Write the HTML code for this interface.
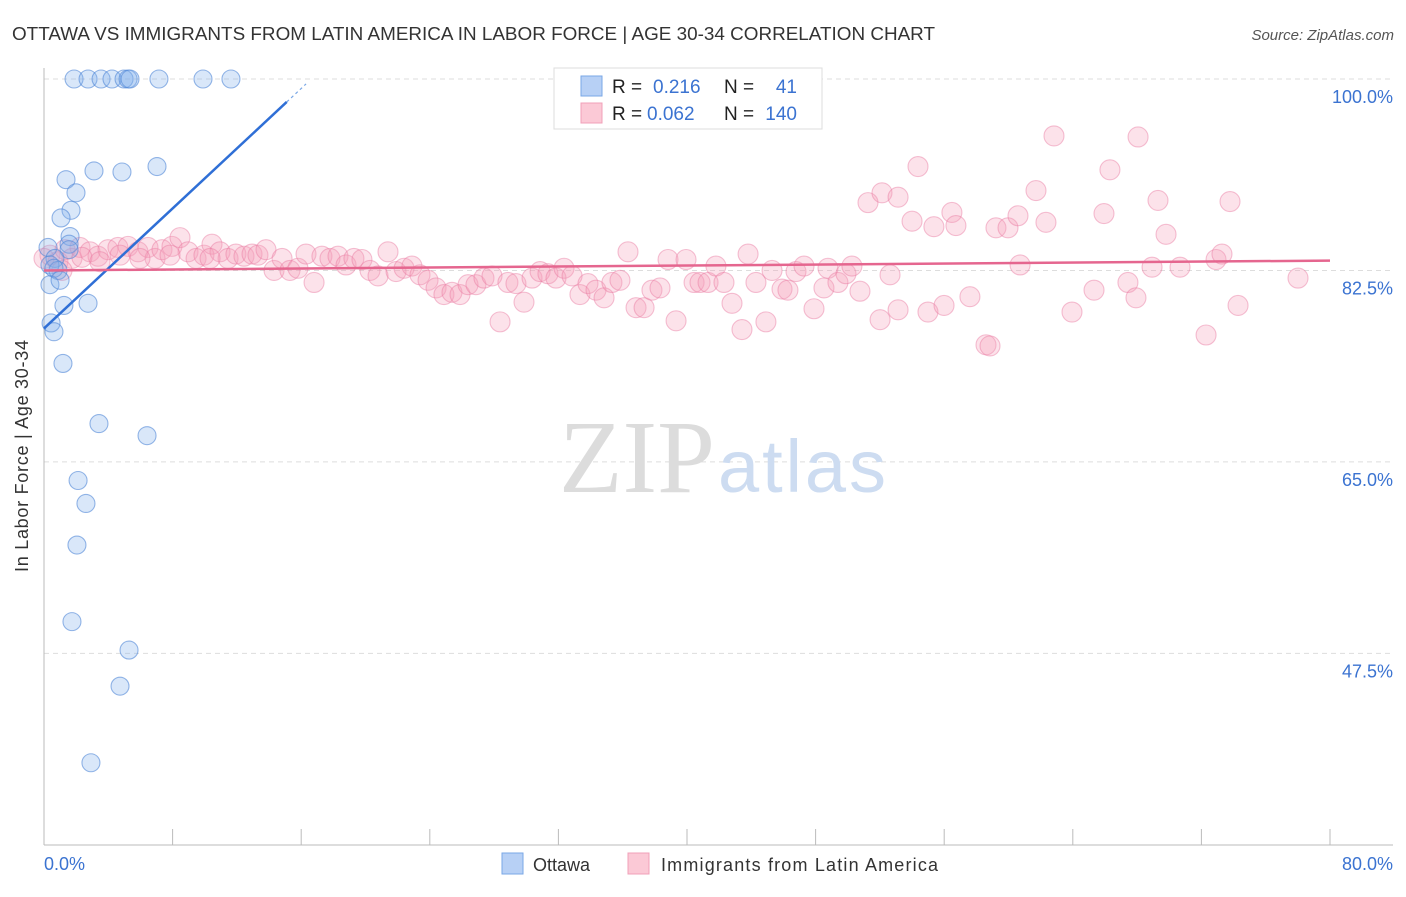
<!DOCTYPE html>
<html><head><meta charset="utf-8"><style>
body{margin:0;background:#fff;font-family:"Liberation Sans",sans-serif}
</style></head><body>
<svg width="1406" height="892" viewBox="0 0 1406 892" xmlns="http://www.w3.org/2000/svg">
<text x="12" y="40" font-size="18" fill="#333" textLength="923" lengthAdjust="spacingAndGlyphs">OTTAWA VS IMMIGRANTS FROM LATIN AMERICA IN LABOR FORCE | AGE 30-34 CORRELATION CHART</text>
<text x="1394" y="40" font-size="15" fill="#555" font-style="italic" text-anchor="end">Source: ZipAtlas.com</text>
<g id="grid"></g>
<text x="715" y="492" font-family="Liberation Serif,serif" font-size="104" fill="#dcdcdc" text-anchor="end">ZIP</text>
<text x="718" y="492" font-size="74" fill="#cddcf1" textLength="168">atlas</text>
<line x1="44" y1="68" x2="44" y2="845" stroke="#bbb"/>
<line x1="44" y1="845" x2="1393" y2="845" stroke="#bbb"/>
<g id="pts"></g>
<g id="lines"></g>
<text x="28" y="456" font-size="18" fill="#333" text-anchor="middle" transform="rotate(-90 28 456)" textLength="232">In Labor Force | Age 30-34</text>
<text x="44" y="870" font-size="18" fill="#3b73d1">0.0%</text>
<text x="1393" y="870" font-size="18" fill="#3b73d1" text-anchor="end">80.0%</text>
<g>
<rect x="554" y="68" width="268" height="61" fill="#fff" stroke="#ddd"/>
<rect x="581" y="76" width="21" height="20" fill="#b7d0f5" stroke="#7aa7e6"/>
<rect x="581" y="103" width="21" height="20" fill="#fbc9d6" stroke="#f0a0b8"/>
<text x="612" y="93" font-size="19" fill="#222">R = </text><text x="653" y="93" font-size="19" fill="#3b73d1">0.216</text>
<text x="724" y="93" font-size="19" fill="#222">N = </text><text x="797" y="93" font-size="19" fill="#3b73d1" text-anchor="end">41</text>
<text x="612" y="120" font-size="19" fill="#222">R = </text><text x="647" y="120" font-size="19" fill="#3b73d1">0.062</text>
<text x="724" y="120" font-size="19" fill="#222">N = </text><text x="797" y="120" font-size="19" fill="#3b73d1" text-anchor="end">140</text>
</g>
<rect x="502" y="853" width="21" height="21" fill="#b7d0f5" stroke="#7aa7e6"/>
<text x="533" y="871" font-size="18" fill="#333">Ottawa</text>
<rect x="628" y="853" width="21" height="21" fill="#fbc9d6" stroke="#f0a0b8"/>
<text x="661" y="871" font-size="18" fill="#333" textLength="277">Immigrants from Latin America</text>
</svg>
<script>
const yTicks=[100,82.5,65,47.5];
const yTickLabels=["100.0%","82.5%","65.0%","47.5%"];
const xTicks=[0,8,16,24,32,40,48,56,64,72,80];
const ottawaX=[1.87,2.74,3.55,4.23,4.98,5.23,5.35,7.15,9.89,11.63,7.03,4.85,3.11,1.37,1.99,1.68,1.06,1.62,1.56,1.56,0.25,0.68,0.37,0.87,0.62,0.37,1.0,1.24,2.74,0.44,0.62,1.18,3.42,6.41,2.12,2.61,2.05,1.74,5.29,4.73,2.92];
const ottawaY=[100,100,100,100,100,100,100,100,100,100,92.0,91.5,91.6,90.8,89.6,88.0,87.3,85.6,84.9,84.4,84.6,83.6,83.0,82.5,82.7,81.2,81.6,79.3,79.5,77.7,76.9,74.0,68.5,67.4,63.3,61.2,57.4,50.4,47.8,44.5,37.5];
const latinX=[0.37,0.87,1.31,1.74,2.24,2.86,3.36,3.98,4.6,5.23,5.85,6.47,6.91,7.34,7.96,8.46,8.96,9.46,9.95,10.45,10.95,11.45,11.94,12.44,12.94,13.31,13.81,14.31,14.81,15.30,15.80,16.30,16.80,17.29,17.79,18.29,18.79,19.28,19.78,20.28,20.78,21.40,21.90,22.40,22.89,23.39,23.89,24.39,24.88,25.38,25.88,26.38,26.87,27.37,27.87,28.37,28.86,29.36,29.86,30.36,30.86,31.35,31.85,32.35,32.85,33.34,33.84,34.34,34.84,35.33,35.83,36.33,36.83,37.33,37.82,38.32,38.82,39.32,39.94,40.44,40.81,41.31,41.80,42.30,42.80,43.42,43.80,44.29,44.91,45.29,45.91,46.28,46.78,47.28,47.90,48.52,48.77,49.39,49.89,50.26,50.76,51.26,52.01,52.13,52.63,53.13,53.13,54.00,54.37,54.99,55.36,55.99,56.48,56.73,57.60,58.60,58.85,59.22,59.97,60.59,60.72,61.71,62.33,62.83,63.95,65.32,65.94,66.31,67.43,67.93,68.06,68.93,69.30,69.80,70.67,72.29,72.91,73.28,73.78,74.28,78.01,2.36,3.48,0.0,1.12,4.73,5.97,7.84,10.33];
const latinY=[83.9,83.3,84.4,83.6,84.6,84.2,83.8,84.4,84.6,84.7,84.2,84.6,83.6,84.4,84.7,85.5,84.2,83.6,83.9,84.9,84.2,83.6,84.0,83.8,84.0,83.9,84.4,82.5,83.6,82.5,82.7,84.0,81.4,83.8,83.6,83.8,83.0,83.6,83.5,82.5,82.0,84.2,82.4,82.7,82.9,82.1,81.6,80.9,80.3,80.5,80.3,81.2,81.2,81.8,82.0,77.8,81.4,81.3,79.6,81.8,82.4,82.2,81.8,82.7,82.0,80.3,81.3,80.7,80.0,81.4,81.6,84.2,79.1,79.1,80.7,80.9,83.5,77.9,83.5,81.4,81.4,81.4,82.9,81.4,79.5,77.1,84.0,81.4,77.8,82.5,80.8,80.7,82.4,82.9,79.0,80.9,82.7,81.4,82.2,82.9,80.6,88.7,78.0,89.6,82.1,89.2,78.9,87.0,92.0,78.7,86.5,79.3,87.8,86.6,80.1,75.7,75.6,86.4,86.4,87.5,83.0,89.8,86.9,94.8,78.7,80.7,87.7,91.7,81.4,80.0,94.7,82.8,88.9,85.8,82.8,76.6,83.5,84.0,88.8,79.3,81.8,83.7,83.3,83.6,82.5,83.9,83.6,83.9,83.6];
const ottawaFit=[77.2,97.9];const ottawaFitX=[0,15.1];
const latinFit=[82.5,83.4];const latinFitX=[0,80];
const X=v=>44+v*16.075, Y=v=>79+(100-v)*10.94;
const NS="http://www.w3.org/2000/svg";
function mk(t,a,p){const e=document.createElementNS(NS,t);for(const k in a)e.setAttribute(k,a[k]);p.appendChild(e);return e;}
const grid=document.getElementById('grid');
yTicks.forEach((v,i)=>{
 const l=mk('line',{x1:44,x2:1393,y1:Y(v),y2:Y(v),stroke:'#ddd','stroke-dasharray':'5,4'},grid);
 
 
 const t=mk('text',{x:1393,y:Y(v)+24,'font-size':18,fill:'#3b73d1','text-anchor':'end'},grid);
 t.textContent=yTickLabels[i];
 
 
});
xTicks.forEach(v=>{
 const l=mk('line',{x1:X(v),x2:X(v),y1:829,y2:845,stroke:'#bbb'},grid);
 
 
});
const pts=document.getElementById('pts');
latinX.forEach((v,i)=>{
 const c=mk('circle',{cx:X(v),cy:Y(latinY[i]),r:10,fill:'rgba(244,160,185,0.3)',stroke:'rgba(232,120,160,0.45)','stroke-width':1.1},pts);
 
 
});
ottawaX.forEach((v,i)=>{
 const c=mk('circle',{cx:X(v),cy:Y(ottawaY[i]),r:9,fill:'rgba(130,175,235,0.3)',stroke:'rgba(80,135,215,0.6)','stroke-width':1.1},pts);
 
 
});
const lines=document.getElementById('lines');
const b=mk('line',{x1:X(ottawaFitX[0]),y1:Y(ottawaFit[0]),x2:X(ottawaFitX[1]),y2:Y(ottawaFit[1]),stroke:'#2f6fd6','stroke-width':2.5},lines);


const sl=(ottawaFit[1]-ottawaFit[0])/(ottawaFitX[1]-ottawaFitX[0]);
const bd=mk('line',{x1:X(ottawaFitX[1]),y1:Y(ottawaFit[1]),x2:X(16.3),y2:Y(ottawaFit[0]+sl*16.3),stroke:'#7aa7e6','stroke-width':1.2,'stroke-dasharray':'3,3'},lines);


const p=mk('line',{x1:X(latinFitX[0]),y1:Y(latinFit[0]),x2:X(latinFitX[1]),y2:Y(latinFit[1]),stroke:'#e5668f','stroke-width':2.5},lines);


</script>
</body></html>
